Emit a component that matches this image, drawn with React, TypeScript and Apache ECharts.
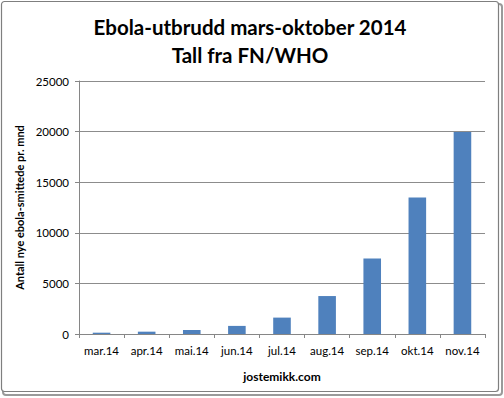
import React, { useEffect, useRef } from "react";
import * as echarts from "echarts";

const categories = ["mar.14", "apr.14", "mai.14", "jun.14", "jul.14", "aug.14", "sep.14", "okt.14", "nov.14"];
const cases = [130, 230, 400, 800, 1620, 3750, 7450, 13500, 19950];
const titleLines = ["Ebola-utbrudd mars-oktober 2014", "Tall fra FN/WHO"];
const yAxisTitle = "Antall nye ebola-smittede pr. mnd";
const xAxisTitle = "jostemikk.com";

export default function App() {
  const ref = useRef<HTMLDivElement>(null);
  useEffect(() => {
    if (!ref.current) return;
    const chart = echarts.init(ref.current, null, { renderer: "svg" });
    const font = "Lato, 'Open Sans', sans-serif";
    const titleStyle = (text: string) => ({
      text,
      fontFamily: font,
      fontSize: 20.5,
      fontWeight: "bold",
      fill: "#000",
      align: "center",
      verticalAlign: "middle",
    });
    chart.setOption({
      animation: false,
      backgroundColor: "#ffffff",
      graphic: [
        {
          type: "rect",
          shape: { x: 3, y: 4, width: 499, height: 391, r: 3 },
          style: { fill: "none", stroke: "#9a9a9a", lineWidth: 2 },
          z: -1,
        },
        {
          type: "rect",
          shape: { x: 1.5, y: 1.5, width: 497, height: 390, r: 3 },
          style: { fill: "#ffffff", stroke: "#7f7f7f", lineWidth: 1.2 },
          z: -1,
        },
        { type: "text", x: 250, y: 27, style: titleStyle(titleLines[0]) },
        { type: "text", x: 250, y: 55, style: titleStyle(titleLines[1]) },
      ],
      grid: { left: 79, right: 19, top: 81, bottom: 64 },
      xAxis: {
        type: "category",
        data: categories,
        name: xAxisTitle,
        nameLocation: "middle",
        nameGap: 36,
        nameTextStyle: { fontFamily: font, fontSize: 12, fontWeight: "bold", color: "#000" },
        axisLine: { lineStyle: { color: "#868686", width: 1 } },
        axisTick: { show: true, length: 4, interval: 0, lineStyle: { color: "#868686" } },
        axisLabel: { fontFamily: font, fontSize: 11.5, color: "#000", margin: 10, interval: 0 },
      },
      yAxis: {
        type: "value",
        min: 0,
        max: 25000,
        interval: 5000,
        name: yAxisTitle,
        nameLocation: "middle",
        nameGap: 50,
        nameTextStyle: { fontFamily: font, fontSize: 11, fontWeight: "bold", color: "#000" },
        axisLine: { show: true, lineStyle: { color: "#868686", width: 1 } },
        axisTick: { show: true, length: 4, lineStyle: { color: "#868686" } },
        axisLabel: {
          fontFamily: font,
          fontSize: 11.5,
          color: "#000",
          margin: 10,
          formatter: (v: number) => String(v),
        },
        splitLine: { lineStyle: { color: "#8c8c8c", width: 1 } },
      },
      series: [
        {
          type: "bar",
          data: cases,
          barWidth: "39%",
          itemStyle: { color: "#4f81bd" },
        },
      ],
    });
    return () => chart.dispose();
  }, []);
  return <div ref={ref} style={{ width: 504, height: 398, position: "absolute", left: 0, top: 0 }} />;
}
